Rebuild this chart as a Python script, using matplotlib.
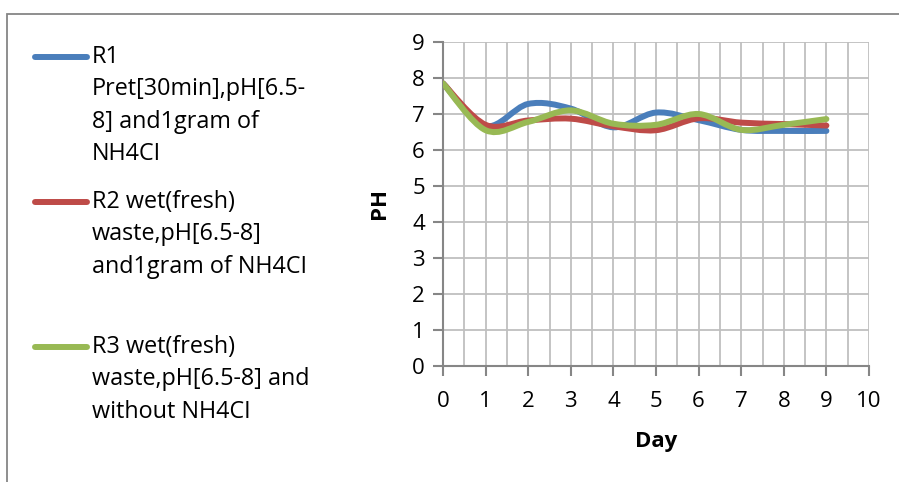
import matplotlib.pyplot as plt
import numpy as np
from matplotlib.path import Path
from matplotlib.patches import PathPatch, Rectangle
from matplotlib.lines import Line2D

plt.rcParams['font.family'] = ['Open Sans', 'DejaVu Sans']

days = [0, 1, 2, 3, 4, 5, 6, 7, 8, 9]
r1 = [7.85, 6.67, 7.28, 7.15, 6.63, 7.04, 6.83, 6.56, 6.53, 6.53]
r2 = [7.85, 6.70, 6.82, 6.87, 6.66, 6.55, 6.88, 6.76, 6.72, 6.68]
r3 = [7.85, 6.55, 6.78, 7.10, 6.73, 6.70, 7.00, 6.56, 6.70, 6.86]

labels = [
    ['R1', 'Pret[30min],pH[6.5-', '8] and1gram of', 'NH4CI'],
    ['R2 wet(fresh)', 'waste,pH[6.5-8]', 'and1gram of NH4CI'],
    ['R3 wet(fresh)', 'waste,pH[6.5-8] and', 'without NH4CI'],
]
colors = ['#4A7EBB', '#BE4B48', '#98B954']


def smooth_path(x, y):
    # excel style smoothed line: cubic bezier through every point
    pts = np.column_stack([x, y]).astype(float)
    verts = [pts[0]]
    codes = [Path.MOVETO]
    n = len(pts)
    for i in range(n - 1):
        p0 = pts[max(i - 1, 0)]
        p1 = pts[i]
        p2 = pts[i + 1]
        p3 = pts[min(i + 2, n - 1)]
        c1 = p1 + (p2 - p0) / 6
        c2 = p2 - (p3 - p1) / 6
        verts += [c1, c2, p2]
        codes += [Path.CURVE4] * 3
    return Path(verts, codes)


fig = plt.figure(figsize=(8.99, 4.82), dpi=100)
ax = fig.add_axes([443 / 899, 1 - 366 / 482, 426 / 899, 324 / 482])

for ys, c in zip([r1, r2, r3], colors):
    ax.add_patch(PathPatch(smooth_path(days, ys), facecolor='none', edgecolor=c,
                           lw=4.3, capstyle='round', joinstyle='round', zorder=3))

ax.set_xlim(0, 10)
ax.set_ylim(0, 9)
ax.set_xticks(range(0, 11))
ax.set_yticks(range(0, 10))
ax.set_xticks(np.arange(0.5, 10, 1), minor=True)
ax.grid(True, which='both', color='#BFBFBF', lw=1.3)
ax.set_axisbelow(True)
for s in ['top', 'right']:
    ax.spines[s].set_visible(False)
for s in ['left', 'bottom']:
    ax.spines[s].set_color('#868686')
    ax.spines[s].set_linewidth(1.5)
ax.tick_params(which='major', length=7, width=1.5, color='#868686', labelsize=16,
               pad=6)
ax.tick_params(axis='x', which='major', pad=11)
ax.tick_params(which='minor', length=0)

ax.set_xlabel('Day', fontsize=16, fontweight='bold', labelpad=14)
ax.set_ylabel('PH', fontsize=16, fontweight='bold', labelpad=16)

# outer frame
fig.add_artist(Rectangle((6.5 / 899, -0.1), 1.1, 1 - 13.5 / 482 + 0.1,
                         transform=fig.transFigure, fill=False,
                         edgecolor='#868686', lw=1.3))

# legend
starts = [57, 202, 347]
for lines, c, y0 in zip(labels, colors, starts):
    fig.add_artist(Line2D([35 / 899, 87 / 899], [1 - y0 / 482] * 2, color=c,
                          lw=4.3, solid_capstyle='round',
                          transform=fig.transFigure))
    for k, t in enumerate(lines):
        fig.text(92 / 899, 1 - (y0 + k * 32.3) / 482, t, fontsize=16.8,
                 va='center', ha='left')

fig.savefig('out.png', dpi=100)
